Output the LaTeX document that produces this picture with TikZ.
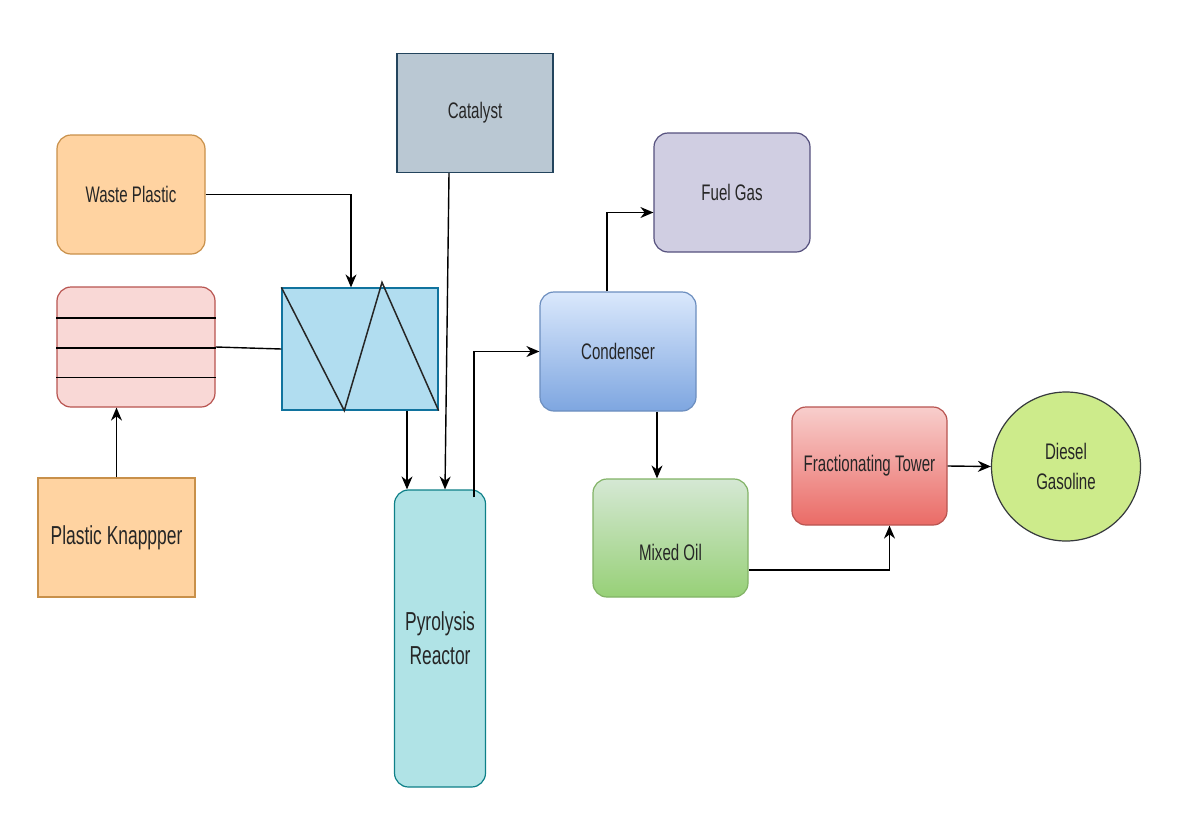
\documentclass[tikz,border=0pt]{standalone}
\usepackage{graphicx}
\usepackage{fontspec}
\setmainfont{Liberation Sans}
\usetikzlibrary{arrows.meta,calc}

% narrow text, like the original drawing
\newcommand{\sq}[1]{\scalebox{0.67}[1]{#1}}

\definecolor{orangefill}{HTML}{FFD3A1}
\definecolor{orangeline}{HTML}{C8904A}
\definecolor{pinkfill}{HTML}{F9D8D6}
\definecolor{pinkline}{HTML}{B85450}
\definecolor{zigfill}{HTML}{B1DDF0}
\definecolor{zigline}{HTML}{10739E}
\definecolor{catfill}{HTML}{BAC8D3}
\definecolor{catline}{HTML}{23445D}
\definecolor{reacfill}{HTML}{B0E3E6}
\definecolor{reacline}{HTML}{0E8088}
\definecolor{condtop}{HTML}{DAE8FC}
\definecolor{condbot}{HTML}{7EA6E0}
\definecolor{condline}{HTML}{6C8EBF}
\definecolor{fuelfill}{HTML}{D0CEE2}
\definecolor{fuelline}{HTML}{56517E}
\definecolor{oiltop}{HTML}{D5E8D4}
\definecolor{oilbot}{HTML}{97D077}
\definecolor{oilline}{HTML}{82B366}
\definecolor{towertop}{HTML}{F8CECC}
\definecolor{towerbot}{HTML}{EA6B66}
\definecolor{towerline}{HTML}{B85450}
\definecolor{limefill}{HTML}{CDEB8B}
\definecolor{limeline}{HTML}{36393D}

\tikzset{
  box/.style={draw, line width=1.2pt, minimum width=156pt, minimum height=119pt,
    rounded corners=14pt, text=black!85, font=\fontsize{22.5}{28}\selectfont, align=center},
  sharpbox/.style={box, sharp corners},
  bigtxt/.style={font=\fontsize{26}{34}\selectfont},
  arr/.style={line width=1.4pt, -{Stealth[length=13pt,width=11pt]}},
  link/.style={line width=1.4pt},
}

\begin{document}
\begin{tikzpicture}[x=1pt,y=-1pt]
  % page
  \fill[white] (0,0) rectangle (1186,830);
  \useasboundingbox (0,0) rectangle (1186,830);

  % Feed side
  \node[box, fill=orangefill, draw=orangeline, minimum width=148pt] (waste) at (131,194.5) {\sq{Waste Plastic}};
  \node[box, fill=pinkfill, draw=pinkline, minimum width=158pt, minimum height=120pt] (belt) at (136,347) {};
  \node[sharpbox, bigtxt, fill=orangefill, draw=orangeline, minimum width=157pt] (knap) at (116.5,537.5) {\sq{Plastic Knappper}};

  % belt lines
  \foreach \f in {0.26,0.51,0.75} {
    \draw[link, line width=1.6pt] ($(belt.north west)!\f!(belt.south west)$) -- ($(belt.north east)!\f!(belt.south east)$);
  }

  % Feeder with zigzag
  \node[sharpbox, fill=zigfill, draw=zigline, minimum height=122pt] (zig) at (360,349) {};
  \draw[line width=1.5pt, black!85] (zig.north west)
    -- ($(zig.south west)!0.40!(zig.south east)$)
    -- ([yshift=5pt]$(zig.north west)!0.64!(zig.north east)$)
    -- (zig.south east);

  % Catalyst and reactor
  \node[sharpbox, fill=catfill, draw=catline] (cat) at (475,113) {\sq{Catalyst}};
  \node[box, bigtxt, fill=reacfill, draw=reacline, minimum width=91pt, minimum height=297pt] (reac) at (440,638.5) {\sq{Pyrolysis}\\\sq{Reactor}};

  % Products
  \node[box, top color=condtop, bottom color=condbot, draw=condline] (cond) at (618,351.5) {\sq{Condenser}};
  \node[box, fill=fuelfill, draw=fuelline] (fuel) at (732,192.5) {\sq{Fuel Gas}};
  \node[box, top color=oiltop, bottom color=oilbot, draw=oilline, minimum width=155pt, minimum height=118pt] (mix) at (670.5,538) {};
  \node[text=black!85, font=\fontsize{22.5}{28}\selectfont] (mixtxt) at (670.5,552) {\sq{Mixed Oil}};
  \node[box, top color=towertop, bottom color=towerbot, draw=towerline, minimum width=155pt, minimum height=118pt] (tower) at (869.5,466) {\sq{Fractionating Tower}};
  \node[circle, draw=limeline, line width=1.2pt, fill=limefill, minimum size=149pt, inner sep=0pt,
    text=black!85, font=\fontsize{22.5}{30}\selectfont, align=center] (fuelout) at (1066,466.5) {\sq{Diesel}\\\sq{Gasoline}};

  % Connectors
  \draw[arr] (waste.east) -| ([xshift=-9pt]zig.north);
  \draw[link] (belt.east) -- (zig.west);
  \draw[arr] (knap.north) -- (knap.north |- belt.south);
  \draw[arr] ([xshift=47pt]zig.south) -- ([xshift=47pt]zig.south |- reac.north);
  \draw[arr] ([xshift=-26pt]cat.south) -- ([xshift=5pt]reac.north);
  \draw[arr] ([xshift=34pt,yshift=-8pt]reac.north) |- (cond.west);
  \draw[arr] ([xshift=-11pt]cond.north) |- ([yshift=-20pt]fuel.west);
  \draw[arr] ([xshift=39pt]cond.south) -- ([xshift=39pt]cond.south |- mix.north);
  \draw[arr] ([yshift=-32pt]mix.east) -| ([xshift=20pt]tower.south);
  \draw[arr] (tower.east) -- (fuelout.west);
\end{tikzpicture}
\end{document}
